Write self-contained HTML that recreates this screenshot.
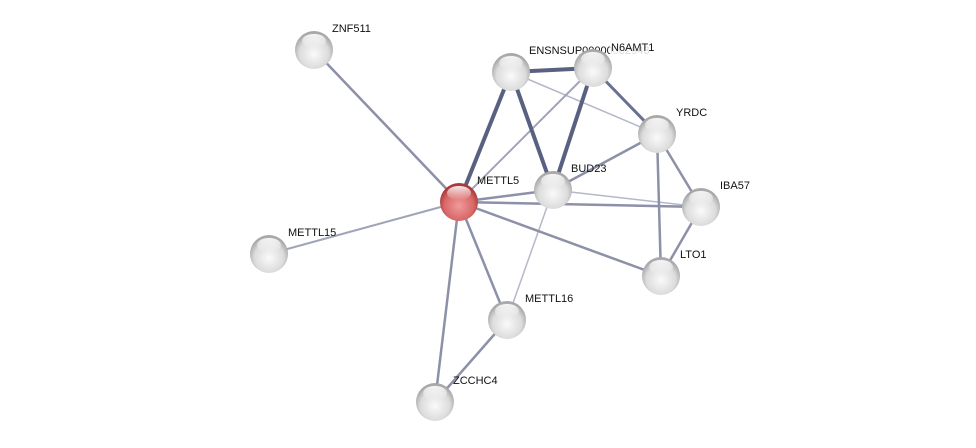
<!DOCTYPE html>
<html><head><style>body{margin:0;background:#fff}svg{display:block}text{font-family:"Liberation Sans",sans-serif;font-size:11px;fill:#111}</style></head><body>
<svg width="976" height="448" viewBox="0 0 976 448">
<defs>
<radialGradient id="g" cx="50%" cy="60%" r="55%"><stop offset="0" stop-color="#fafafa"/><stop offset="0.7" stop-color="#dcdcdc"/><stop offset="1" stop-color="#a8a8a8"/></radialGradient>
<radialGradient id="r" cx="50%" cy="60%" r="55%"><stop offset="0" stop-color="#f09a9a"/><stop offset="0.7" stop-color="#d86868"/><stop offset="1" stop-color="#a83a3a"/></radialGradient>
<linearGradient id="h" x1="0" y1="0" x2="0" y2="1"><stop offset="0" stop-color="#fff" stop-opacity="0.9"/><stop offset="1" stop-color="#fff" stop-opacity="0"/></linearGradient>
</defs>
<g stroke-linecap="round">
<g stroke="#b4b8c8" stroke-width="1.5">
<line x1="511" y1="72" x2="657" y2="134"/><line x1="553" y1="190" x2="701" y2="207"/><line x1="553" y1="190" x2="507" y2="320"/>
</g>
<g stroke="#a0a4b8" stroke-width="2">
<line x1="459" y1="202" x2="269" y2="254"/><line x1="459" y1="202" x2="593" y2="68"/>
</g>
<g stroke="#8c90a8" stroke-width="2.5">
<line x1="459" y1="202" x2="314" y2="50"/><line x1="459" y1="202" x2="553" y2="190"/><line x1="459" y1="202" x2="701" y2="207"/>
<line x1="459" y1="202" x2="661" y2="276"/><line x1="459" y1="202" x2="507" y2="320"/><line x1="459" y1="202" x2="435" y2="402"/>
<line x1="507" y1="320" x2="435" y2="402"/><line x1="657" y1="134" x2="701" y2="207"/><line x1="657" y1="134" x2="661" y2="276"/>
<line x1="701" y1="207" x2="661" y2="276"/><line x1="553" y1="190" x2="657" y2="134"/>
</g>
<g stroke="#6a7090" stroke-width="3">
<line x1="593" y1="68" x2="657" y2="134"/>
</g>
<g stroke="#5a6080" stroke-width="4">
<line x1="511" y1="72" x2="593" y2="68"/><line x1="511" y1="72" x2="459" y2="202"/><line x1="511" y1="72" x2="553" y2="190"/><line x1="593" y1="68" x2="553" y2="190"/>
</g>
</g>
<g>
<g id="n"></g>
<circle cx="314" cy="50" r="19" fill="url(#g)"/><circle cx="511" cy="72" r="19" fill="url(#g)"/>
<circle cx="657" cy="134" r="19" fill="url(#g)"/><circle cx="553" cy="190" r="19" fill="url(#g)"/>
<circle cx="701" cy="207" r="19" fill="url(#g)"/><circle cx="269" cy="254" r="19" fill="url(#g)"/><circle cx="661" cy="276" r="19" fill="url(#g)"/>
<circle cx="507" cy="320" r="19" fill="url(#g)"/><circle cx="435" cy="402" r="19" fill="url(#g)"/>
<circle cx="459" cy="202" r="19" fill="url(#r)"/>
</g>
<text x="529" y="54">ENSNSUP00000002943</text>
<circle cx="593" cy="68" r="19" fill="url(#g)"/>
<g fill="url(#h)">
<ellipse cx="314" cy="41" rx="12" ry="7"/><ellipse cx="511" cy="63" rx="12" ry="7"/><ellipse cx="593" cy="59" rx="12" ry="7"/>
<ellipse cx="657" cy="125" rx="12" ry="7"/><ellipse cx="553" cy="181" rx="12" ry="7"/><ellipse cx="701" cy="198" rx="12" ry="7"/>
<ellipse cx="269" cy="245" rx="12" ry="7"/><ellipse cx="661" cy="267" rx="12" ry="7"/><ellipse cx="507" cy="311" rx="12" ry="7"/>
<ellipse cx="435" cy="393" rx="12" ry="7"/><ellipse cx="459" cy="193" rx="12" ry="7"/>
</g>
<rect x="610" y="41" width="48" height="13" fill="#fff" opacity="0.85"/>
<text x="611" y="51">N6AMT1</text>
<text x="332" y="32">ZNF511</text>
<text x="676" y="116">YRDC</text>
<text x="477" y="184">METTL5</text>
<text x="571" y="172">BUD23</text>
<text x="720" y="189">IBA57</text>
<text x="288" y="236">METTL15</text>
<text x="680" y="258">LTO1</text>
<text x="525" y="302">METTL16</text>
<text x="453" y="384">ZCCHC4</text>
</svg>
</body></html>
